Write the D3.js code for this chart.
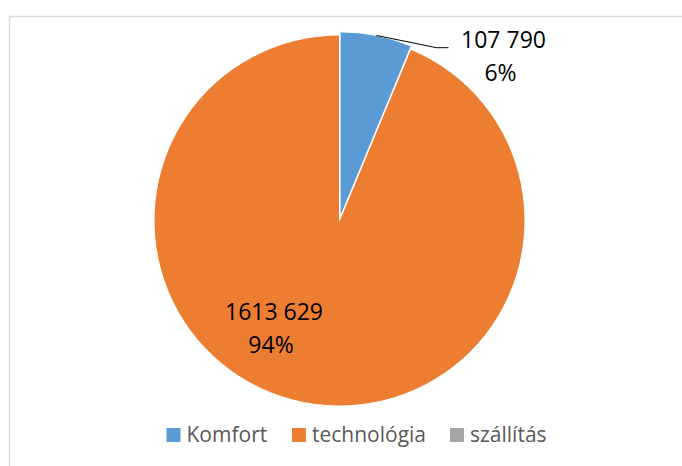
<!DOCTYPE html>
<html><head><meta charset="utf-8">
<script src="https://cdn.jsdelivr.net/npm/d3@7"></script>
<style>body{margin:0;background:#fff}svg{display:block}</style>
</head><body>
<svg id="c" width="682" height="466"></svg>
<script>
const categories = ["Komfort", "technológia", "szállítás"];
const values = [107790, 1613629, 0];
const valueLabels = ["107 790", "1613 629", ""];
const percentLabels = ["6%", "94%", ""];
const colors = ["#5B9BD5", "#ED7D31", "#A5A5A5"];

const svg = d3.select("#c");
// chart area border (cropped at right and bottom)
svg.append("rect").attr("x", 9.5).attr("y", 16.5).attr("width", 700).attr("height", 470)
  .attr("fill", "#fff").attr("stroke", "#D9D9D9").attr("stroke-width", 1.5);

const cx = 339.5, cy = 220.5, R = 185.5, explode = 3.2;
const data = categories.map((c, i) => ({cat: c, v: values[i], i}));
const pie = d3.pie().sort(null).value(d => d.v);
const arcs = pie(data);
const arc = d3.arc().innerRadius(0).outerRadius(R);
const g = svg.append("g").attr("transform", `translate(${cx},${cy})`);

function offset(a, r) {
  const m = (a.startAngle + a.endAngle) / 2;
  return [Math.sin(m) * r, -Math.cos(m) * r];
}

g.selectAll("path").data(arcs.filter(a => a.data.v > 0)).join("path")
  .attr("d", arc)
  .attr("fill", d => colors[d.data.i])
  .attr("stroke", "#fff").attr("stroke-width", 1)
  .attr("transform", d => {
    if (d.data.i !== 0) return null;
    const [dx, dy] = offset(d, explode);
    return `translate(${dx},${dy})`;
  });

const font = "'Open Sans', sans-serif";
// Komfort label with leader line
const a0 = arcs[0];
const [sx, sy] = offset(a0, R + explode);
const lineEnd = [97, -172.8];
g.append("path")
  .attr("d", d3.line()([[sx, sy], lineEnd, [lineEnd[0] + 12, lineEnd[1]]]))
  .attr("fill", "none").attr("stroke", "#000").attr("stroke-width", 1);
const l0 = g.append("text").attr("font-family", font).attr("font-size", 23)
  .attr("fill", "#000").attr("text-anchor", "middle");
l0.append("tspan").attr("x", 164).attr("y", -172.5).text(valueLabels[0]);
l0.append("tspan").attr("x", 161).attr("y", -140).text(percentLabels[0]);

// technológia label inside
const l1 = g.append("text").attr("font-family", font).attr("font-size", 23)
  .attr("fill", "#000").attr("text-anchor", "middle");
l1.append("tspan").attr("x", -65.5).attr("y", 99.5).text(valueLabels[1]);
l1.append("tspan").attr("x", -68.5).attr("y", 132.5).text(percentLabels[1]);

// legend
const legendX = [166.5, 292, 450];
const lg = svg.append("g");
categories.forEach((c, i) => {
  lg.append("rect").attr("x", legendX[i]).attr("y", 428).attr("width", 14).attr("height", 14)
    .attr("fill", colors[i]);
  lg.append("text").attr("x", legendX[i] + 20).attr("y", 442)
    .attr("font-family", font).attr("font-size", 21).attr("fill", "#595959").text(c);
});
</script>
</body></html>
